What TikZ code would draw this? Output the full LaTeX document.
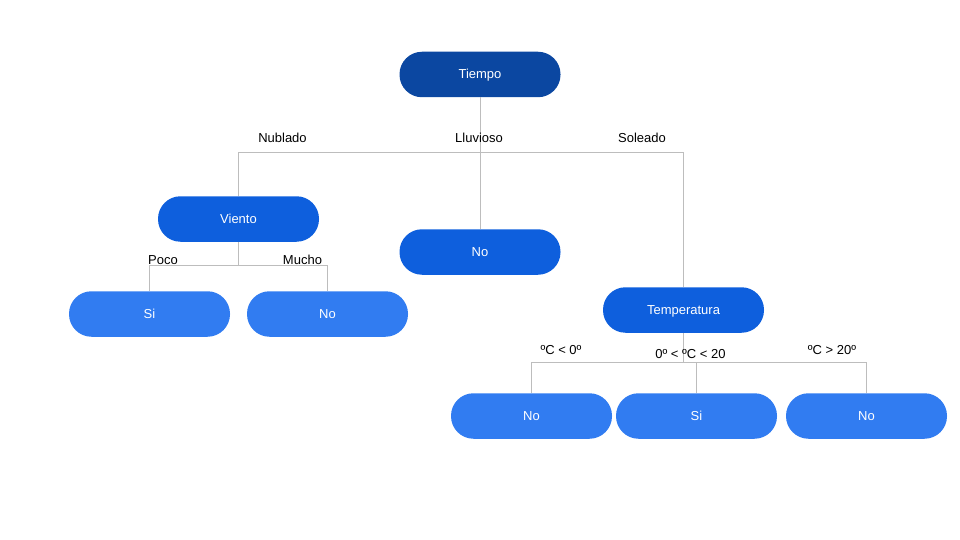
\documentclass[tikz,border=0pt]{standalone}
\usepackage{fontspec}
\setmainfont{Liberation Sans}
\definecolor{rootblue}{HTML}{0B47A1}
\definecolor{midblue}{HTML}{0E5FDD}
\definecolor{leafblue}{HTML}{317CF1}
\definecolor{linegray}{HTML}{BDBDBD}
\tikzset{
  pill/.style={draw=none, rounded corners=22.5pt, minimum width=161pt, minimum height=45.5pt, inner sep=0pt, text=white, text height=9.3pt, text depth=0.3pt, font=\fontsize{13pt}{15pt}\selectfont},
  rootnode/.style={pill, fill=rootblue},
  midnode/.style={pill, fill=midblue},
  leafnode/.style={pill, fill=leafblue},
  conn/.style={draw=linegray, line width=0.8pt},
  lbl/.style={font=\fontsize{13pt}{15pt}\selectfont, text=black, inner sep=0pt, text height=9.3pt, text depth=0pt}
}
\begin{document}
\begin{tikzpicture}[x=1pt,y=-1pt]
\useasboundingbox (0,0) rectangle (960,540);
% nodes
\node[rootnode] (tiempo) at (480,74.5) {Tiempo};
\node[midnode] (viento) at (238.5,219) {Viento};
\node[midnode] (lluv) at (480,252) {No};
\node[midnode] (temp) at (683.5,310) {Temperatura};
\node[leafnode] (si1) at (149.5,314) {Si};
\node[leafnode] (no1) at (327.5,314) {No};
\node[leafnode] (no2) at (531.5,416) {No};
\node[leafnode] (si2) at (696.5,416) {Si};
\node[leafnode] (no3) at (866.5,416) {No};
% junction coordinates
\coordinate (j1) at (480,152);
\coordinate (j2) at (238.5,265);
\coordinate (j3) at (683.5,362);
% connectors
\draw[conn] (tiempo.south) -- (j1);
\draw[conn] (j1) -| (viento.north);
\draw[conn] (j1) -- (lluv.north);
\draw[conn] (j1) -| (temp.north);
\draw[conn] (viento.south) -- (j2);
\draw[conn] (j2) -| (si1.north);
\draw[conn] (j2) -| (no1.north);
\draw[conn] (temp.south) -- (j3);
\draw[conn] (j3) -| (no2.north);
\draw[conn] (j3) -| (si2.north);
\draw[conn] (j3) -| (no3.north);
% labels
\node[lbl] (lnub) at (282.5,138) {Nublado};
\node[lbl] (llluv) at (479,138) {Lluvioso};
\node[lbl] (lsol) at (642,138) {Soleado};
\node[lbl] (lpoco) at (163,260) {Poco};
\node[lbl] (lmucho) at (302.5,260) {Mucho};
\node[lbl] (lt1) at (561,350) {ºC < 0º};
\node[lbl] (lt2) at (690.5,354) {0º < ºC < 20};
\node[lbl] (lt3) at (832,350) {ºC > 20º};
\end{tikzpicture}
\end{document}
